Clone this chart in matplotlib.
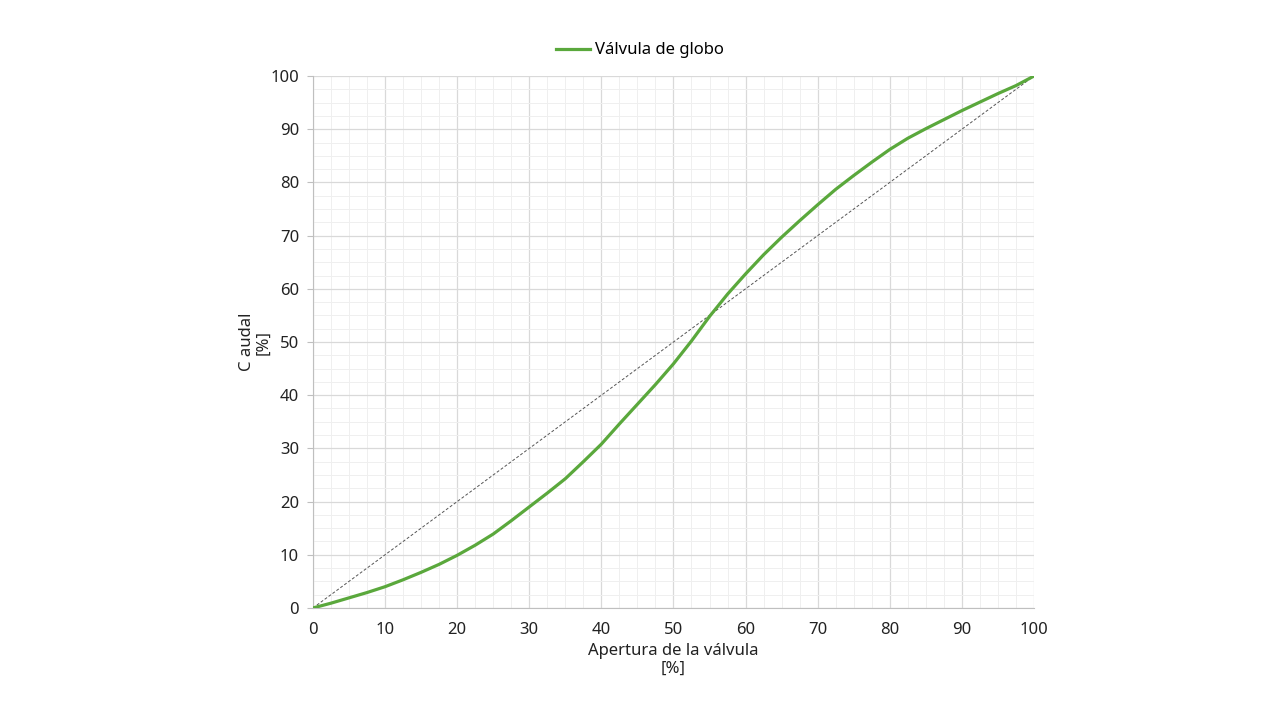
import numpy as np
import matplotlib.pyplot as plt
from matplotlib.ticker import MultipleLocator

# valve opening [%] and flow [%]
apertura = [0, 2.5, 5, 7.5, 10, 12.5, 15, 17.5, 20, 22.5, 25, 27.5, 30, 32.5, 35, 37.5,
            40, 42.5, 45, 47.5, 50, 52.5, 55, 57.5, 60, 62.5, 65, 67.5, 70, 72.5, 75,
            77.5, 80, 82.5, 85, 87.5, 90, 92.5, 95, 97.5, 100]
caudal = [0, 0.9, 1.9, 2.9, 4.0, 5.3, 6.7, 8.2, 9.9, 11.8, 13.9, 16.4, 19.0, 21.6, 24.3, 27.5,
          30.8, 34.6, 38.3, 42.0, 45.9, 50.2, 54.8, 59.0, 62.8, 66.4, 69.7, 72.8, 75.8, 78.7, 81.3,
          83.8, 86.2, 88.3, 90.1, 91.8, 93.5, 95.1, 96.7, 98.2, 100]

lineal_x = [0, 100]
lineal_y = [0, 100]

plt.rcParams["font.family"] = ["Noto Sans", "DejaVu Sans"]

fig = plt.figure(figsize=(12.8, 7.2), dpi=100)
ax = fig.add_axes([0.2445, 0.1556, 0.5633, 0.7388])

ax.plot(lineal_x, lineal_y, color="#555555", linestyle=(0, (3, 2)), linewidth=0.7, zorder=3)
ax.plot(apertura, caudal, color="#5aa83c", linewidth=2.3, label="Válvula de globo", zorder=4,
        solid_joinstyle="round")

ax.set_xlim(0, 100)
ax.set_ylim(0, 100)
ax.xaxis.set_major_locator(MultipleLocator(10))
ax.yaxis.set_major_locator(MultipleLocator(10))
ax.xaxis.set_minor_locator(MultipleLocator(2.5))
ax.yaxis.set_minor_locator(MultipleLocator(2.5))
ax.grid(which="major", color="#d9d9d9", linewidth=0.9)
ax.grid(which="minor", color="#efefef", linewidth=0.7)
ax.set_axisbelow(True)

for s in ["top", "right"]:
    ax.spines[s].set_visible(False)
for s in ["left", "bottom"]:
    ax.spines[s].set_color("#bfbfbf")
ax.tick_params(which="major", labelsize=12, colors="#bfbfbf", labelcolor="#222222", length=4)
ax.tick_params(which="minor", length=0)
ax.tick_params(axis="x", length=0, pad=10)
ax.tick_params(axis="y", pad=6)

ax.set_xlabel("Apertura de la válvula\n[%]", fontsize=12, color="#222222", labelpad=4, linespacing=1.1)
ax.set_ylabel("C audal\n[%]", fontsize=12, color="#222222", labelpad=-1, linespacing=1.1)

fig.legend(loc="upper center", bbox_to_anchor=(0.5, 0.962), frameon=False, fontsize=12,
           handlelength=2.0, handletextpad=0.3)

fig.savefig("out.png", dpi=100)
